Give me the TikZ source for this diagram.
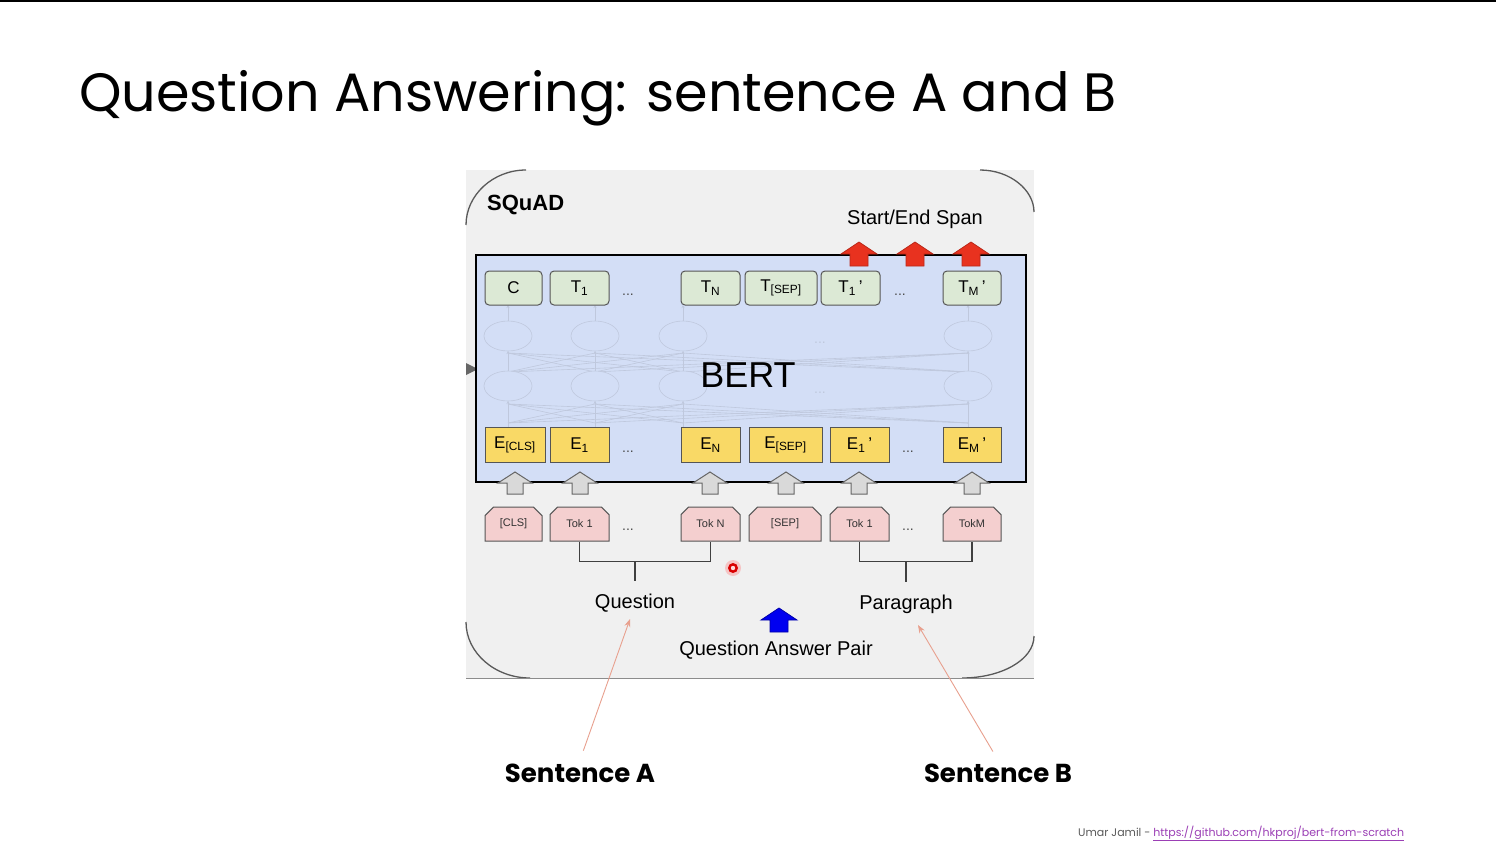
\documentclass[tikz,border=0pt]{standalone}
\usepackage{fontspec}
\setmainfont{Liberation Sans}
\newfontfamily\slidefont{Poppins}
\usetikzlibrary{shapes.misc,arrows.meta,calc}

\definecolor{panelbg}{HTML}{F0F0F0}
\definecolor{bertblue}{HTML}{D3DEF6}
\definecolor{tgreen}{HTML}{DCE9D5}
\definecolor{eyellow}{HTML}{F9D966}
\definecolor{tokpink}{HTML}{F4CFCF}
\definecolor{boxedge}{HTML}{555555}
\definecolor{netline}{HTML}{BFC8DD}
\definecolor{spanred}{HTML}{E8321F}
\definecolor{pairblue}{HTML}{0000F0}
\definecolor{pointer}{HTML}{E8A08E}
\definecolor{linkpurple}{HTML}{9B3FB5}

\tikzset{
  tbox/.style={draw=boxedge, fill=tgreen, rounded corners=4, minimum height=34,
    inner sep=0, line width=1, font=\fontsize{17}{17}\selectfont},
  ebox/.style={draw=boxedge, fill=eyellow, minimum height=35,
    inner sep=0, line width=1, font=\fontsize{17}{17}\selectfont},
  tokbox/.style={chamfered rectangle, chamfered rectangle corners={north west,north east},
    chamfered rectangle xsep=6pt, draw=boxedge, fill=tokpink, minimum height=34,
    inner sep=0, line width=1, text=black!80, font=\fontsize{11}{11}\selectfont},
  dots/.style={font=\fontsize{14}{14}\selectfont, text=black!70},
  lbl/.style={font=\fontsize{20}{20}\selectfont},
  bracket/.style={draw=black!75, line width=1.2},
  ptr/.style={draw=pointer, line width=0.9, -{Stealth[length=8,width=6]}},
  frame arc/.style={draw=black!65, line width=1.3},
  netstroke/.style={draw=netline, line width=0.6},
  blockup/.pic={\path[pic actions] (-8,11) -- (-8,0) -- (-17,0) -- (0,-11) -- (17,0) -- (8,0) -- (8,11) -- cycle;},
  bigup/.pic={\path[pic actions] (-9,12) -- (-9,0) -- (-18,0) -- (0,-12) -- (18,0) -- (9,0) -- (9,12) -- cycle;},
}

\begin{document}
\begin{tikzpicture}[x=1pt,y=-1pt]
\useasboundingbox (0,0) rectangle (1496,846);
\fill[white] (0,0) rectangle (1496,846);
\fill[black] (0,0) rectangle (1496,2);

% slide title
\node[anchor=base west, inner sep=0, font=\slidefont\fontsize{54}{54}\selectfont] (title) at (79,111) {Question Answering: sentence A and B};

% grey panel holding the SQuAD figure
\fill[panelbg] (466,170) rectangle (1034,678);
\draw[frame arc] (466,225) .. controls (466,195) and (493,170) .. (526,170);
\draw[frame arc] (980,170) .. controls (1010,170) and (1034,190) .. (1034,212);
\draw[frame arc] (466,622) .. controls (466,653) and (495,678) .. (530,678);
\draw[frame arc] (962,678) .. controls (1001,678) and (1034,660) .. (1034,636);
\draw[black!45, line width=1] (466,678) -- (1034,678);
\fill[black!60] (466,363) -- (478,369) -- (466,375) -- cycle;

\node[anchor=west, inner sep=0, font=\bfseries\fontsize{22}{22}\selectfont] (squad) at (487,205) {SQuAD};
\node[lbl] (span) at (915,219) {Start/End Span};

% BERT block
\node[draw=black, line width=2.6, fill=bertblue, minimum width=550, minimum height=227, inner sep=0] (bert) at (751,368.5) {};

% faint attention network inside BERT
\foreach \a in {508,595,683,968} {
  \foreach \b in {508,595,683,968} {
    \draw[netstroke] (\a,423) -- (\b,404);
    \draw[netstroke] (\a,372) -- (\b,353);
  }
  \draw[netstroke, -{Stealth[length=3,width=3]}] (\a,428) -- (\a,401);
  \draw[netstroke, -{Stealth[length=3,width=3]}] (\a,371) -- (\a,351);
  \draw[netstroke, -{Stealth[length=3,width=3]}] (\a,321) -- (\a,305);
  \draw[netstroke, fill=bertblue] (\a,336) ellipse (24 and 15);
  \draw[netstroke, fill=bertblue] (\a,386) ellipse (24 and 15);
}
\node[dots, text=netline] (netdotsa) at (820,343) {...};
\node[dots, text=netline] (netdotsb) at (820,393) {...};
\node[font=\fontsize{36}{36}\selectfont] (bertlbl) at (748,375) {BERT};

% output row
\node[tbox, minimum width=57] (c) at (513.5,288) {C};
\node[tbox, minimum width=59] (tone) at (579.5,288) {T\textsubscript{1}};
\node[dots] (tdotsa) at (628,295) {...};
\node[tbox, minimum width=59] (tn) at (710.5,288) {T\textsubscript{N}};
\node[tbox, minimum width=72] (tsep) at (781,288) {T\textsubscript{[SEP]}};
\node[tbox, minimum width=59] (tonep) at (850.5,288) {T\textsubscript{1}\,'};
\node[dots] (tdotsb) at (900,295) {...};
\node[tbox, minimum width=58] (tmp) at (972,288) {T\textsubscript{M}\,'};

% embedding row
\node[ebox, minimum width=60] (ecls) at (515,445) {E\textsubscript{[CLS]}};
\node[ebox, minimum width=59] (eone) at (579.5,445) {E\textsubscript{1}};
\node[dots] (edotsa) at (628,452) {...};
\node[ebox, minimum width=59] (en) at (710.5,445) {E\textsubscript{N}};
\node[ebox, minimum width=73] (esep) at (785.5,445) {E\textsubscript{[SEP]}};
\node[ebox, minimum width=59] (eonep) at (859.5,445) {E\textsubscript{1}\,'};
\node[dots] (edotsb) at (908,452) {...};
\node[ebox, minimum width=58] (emp) at (972,445) {E\textsubscript{M}\,'};

% start/end span arrows
\foreach \x in {859,915,971}
  \pic[draw=spanred!80!black, fill=spanred, line width=0.8] at (\x,254) {bigup};

% input arrows
\foreach \x in {515,580,710,786,859,972}
  \pic[draw=black!60, fill=black!15, line width=1] at (\x,483) {blockup};

% input tokens
\node[tokbox, minimum width=57] (kcls) at (513.5,524) {[CLS]};
\node[tokbox, minimum width=59] (kone) at (579.5,524) {Tok 1};
\node[dots] (kdotsa) at (628,530) {...};
\node[tokbox, minimum width=59] (kn) at (710.5,524) {Tok N};
\node[tokbox, minimum width=72] (ksep) at (785,524) {[SEP]};
\node[tokbox, minimum width=59] (konep) at (859.5,524) {Tok 1};
\node[dots] (kdotsb) at (908,530) {...};
\node[tokbox, minimum width=58] (kmp) at (972,524) {TokM};

% segment labels and brackets
\node[lbl] (question) at (635,603) {Question};
\node[lbl] (paragraph) at (906,604) {Paragraph};
\draw[bracket] (kone.south) -- ++(0,20) coordinate (qjoin) -| (kn.south);
\draw[bracket] (question.north |- qjoin) -- ++(0,19);
\draw[bracket] (konep.south) -- ++(0,20) coordinate (pjoin) -| (kmp.south);
\draw[bracket] (paragraph.north |- pjoin) -- ++(0,20);

\pic[draw=pairblue!70!black, fill=pairblue, line width=0.8] at (779,620) {bigup};
\node[lbl] (pair) at (776,650) {Question Answer Pair};

% pointer dot
\fill[red!55, opacity=0.35] (733,568) circle (8);
\fill[red!85!black] (733,568) circle (5);
\fill[red!15] (733,568) circle (2.2);

% sentence labels
\node[font=\slidefont\bfseries\fontsize{26}{26}\selectfont] (sa) at (580,773) {Sentence A};
\node[font=\slidefont\bfseries\fontsize{26}{26}\selectfont] (sb) at (998,773) {Sentence B};
\coordinate (qtip) at (630,619);
\coordinate (ptip) at (918,625);
\draw[ptr, shorten <=10] (sa.north) -- (qtip);
\draw[ptr, shorten <=10] (sb.north) -- (ptip);

% footer
\node[anchor=base west, inner sep=0, text=black!65, font=\slidefont\fontsize{11}{11}\selectfont] (credit) at (1078,836)
  {Umar Jamil - \textcolor{linkpurple}{\underline{https://github.com/hkproj/bert-from-scratch}}};
\end{tikzpicture}
\end{document}
